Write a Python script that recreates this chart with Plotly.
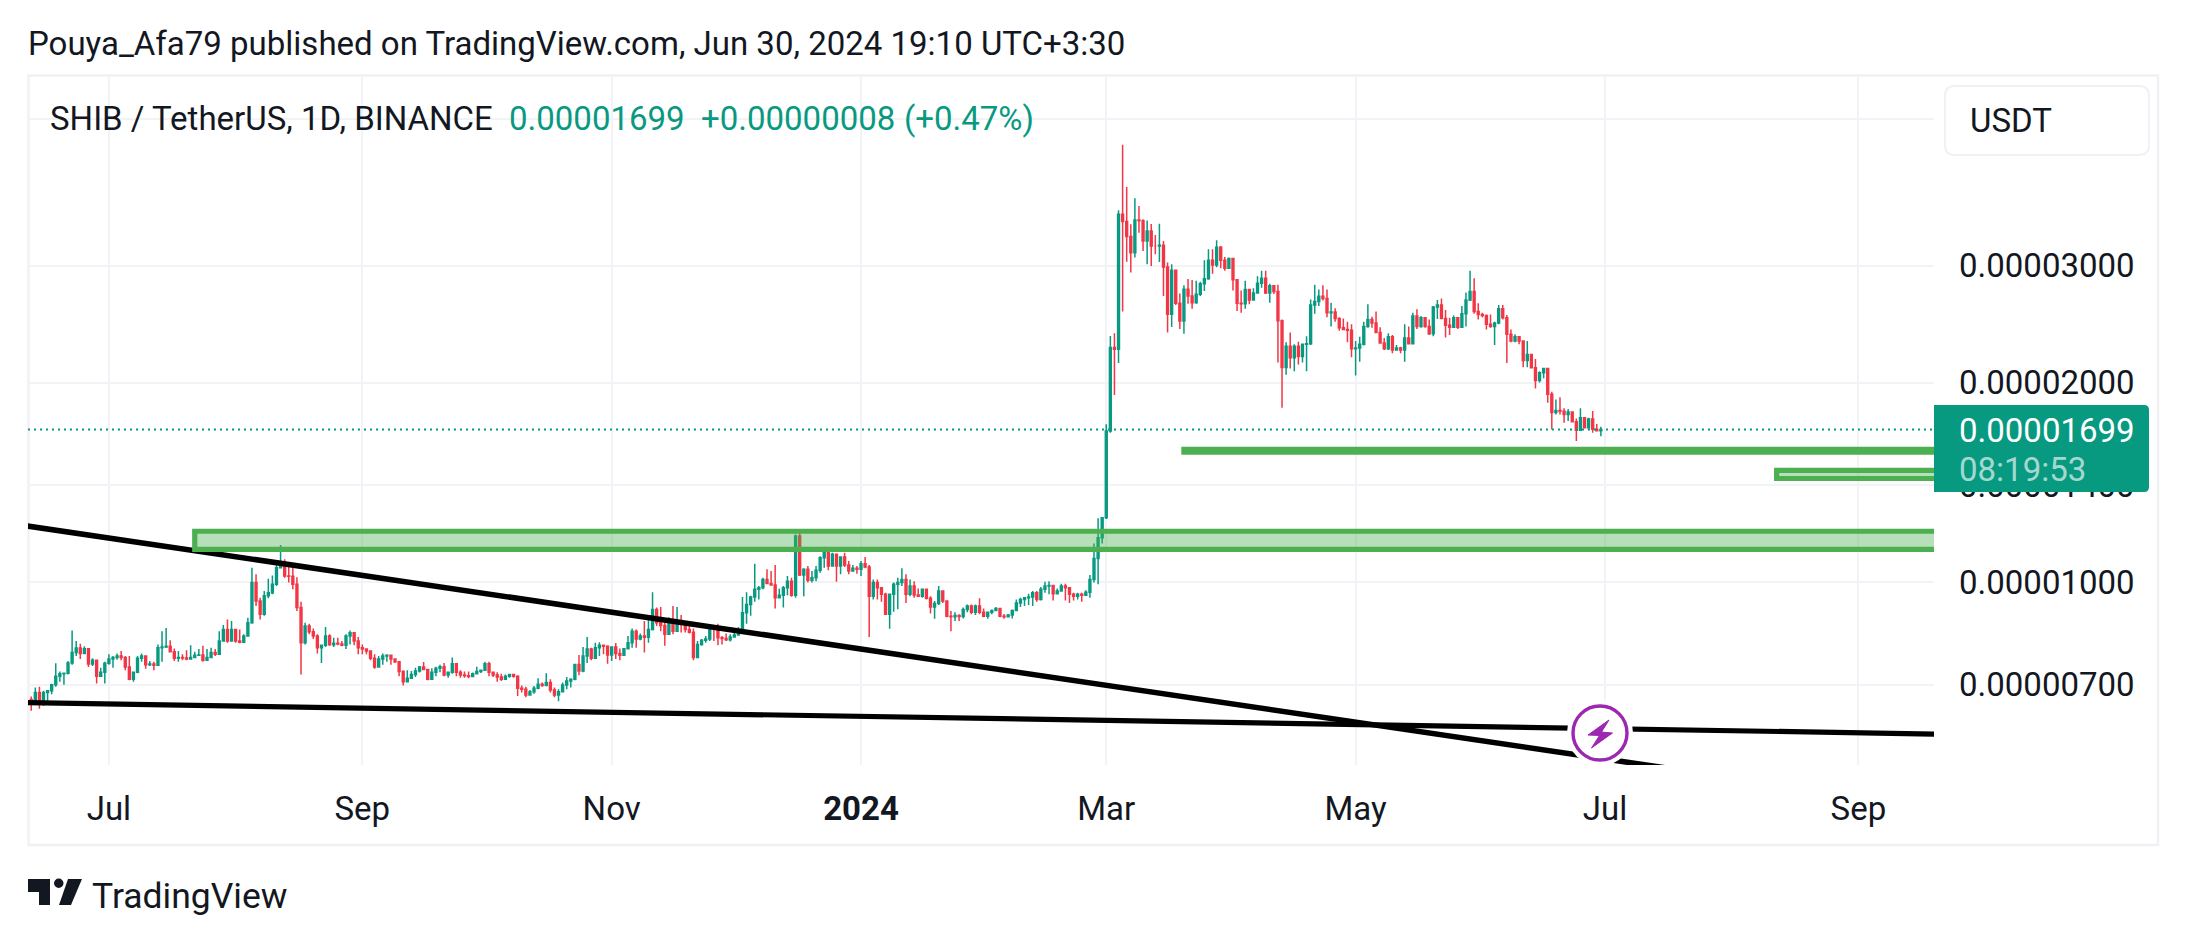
import pandas as pd
import plotly.graph_objects as go

W, H = 2187, 941
UNIT = 1e-8  # quoted prices below are in units of 0.00000001 USDT

first_open = 665
closes = [
654,681,654,681,685,700,721,727,728,755,
783,795,780,793,752,762,721,731,754,765,
769,773,769,744,713,731,767,773,750,752,
749,796,798,800,785,767,769,768,765,769,
775,776,762,769,783,778,815,848,815,848,
815,811,829,868,998,936,894,953,963,992,
1051,1063,1021,1020,992,915,810,858,841,829,
796,803,829,804,808,806,803,829,838,815,
796,792,787,767,744,765,773,775,765,758,
733,707,716,725,734,744,738,713,731,741,
745,724,731,753,731,724,722,720,727,733,
736,753,731,724,719,713,721,725,721,691,
689,675,683,691,701,698,705,687,675,683,
699,709,713,751,734,773,792,767,796,803,
800,776,798,780,775,793,810,843,820,829,
825,848,909,868,860,834,878,843,875,868,
848,840,769,805,817,820,855,850,824,822,
818,826,832,838,899,925,949,975,980,1009,
995,990,947,955,980,1003,955,1173,1025,1045,
1006,1015,1042,1088,1107,1057,1101,1057,1091,1061,
1039,1049,1045,1066,1054,952,998,980,958,894,
958,992,998,1009,958,986,956,952,975,945,
917,928,969,936,888,886,890,887,909,920,
900,920,900,888,900,906,912,888,886,892,
906,930,941,947,949,963,941,975,986,988,
960,969,986,980,958,952,958,955,965,1009,
1085,1166,1250,1690,2259,2245,3590,3500,3322,3141,
3520,3510,3272,3388,3216,3216,3224,2990,2537,2955,
2635,2478,2767,2703,2640,2719,2820,2870,3060,3010,
3200,3060,2975,3078,2860,2635,2630,2765,2665,2730,
2825,2875,2730,2800,2745,2480,2107,2270,2180,2270,
2190,2285,2290,2620,2650,2700,2680,2550,2555,2500,
2420,2405,2400,2250,2255,2285,2430,2490,2460,2380,
2295,2250,2345,2240,2255,2240,2335,2290,2520,2430,
2505,2430,2370,2600,2620,2500,2440,2425,2505,2425,
2540,2665,2745,2560,2535,2525,2450,2430,2460,2585,
2505,2365,2310,2345,2310,2160,2205,2105,2015,2070,
2100,1920,1802,1815,1810,1790,1805,1745,1695,1770,
1710,1762,1700,1691,1699]

highs = [
672,693,695,685,687,702,754,733,730,760,
845,815,807,800,795,767,760,742,758,778,
773,780,787,773,773,733,773,780,773,760,
758,805,843,852,817,794,787,778,789,803,
785,792,801,792,796,792,843,861,878,873,
848,848,834,883,1051,1027,947,969,1011,1023,
1066,1137,1082,1069,1066,1017,934,868,865,851,
834,805,855,834,824,824,815,834,845,836,
826,805,794,785,778,773,780,778,773,767,
758,736,736,734,742,747,757,738,741,745,
750,755,733,769,753,736,733,733,730,745,
738,758,758,733,731,727,725,727,727,723,
698,695,687,697,716,705,728,713,693,689,
705,719,716,753,776,798,826,796,810,811,
805,803,800,809,794,794,829,851,848,836,
873,881,965,915,917,881,885,920,917,892,
873,873,851,815,820,829,858,861,865,829,
836,834,838,855,949,965,953,1066,986,1015,
1045,1039,1061,977,986,1021,1015,1180,1194,1049,
1057,1039,1057,1094,1130,1111,1107,1104,1094,1107,
1076,1061,1057,1076,1091,1061,1009,1009,983,963,
960,998,1015,1049,1027,1009,1003,978,978,969,
952,936,986,971,936,904,900,894,915,925,
925,925,945,912,902,909,917,912,895,895,
909,941,947,949,960,969,969,983,1001,1003,
990,978,994,994,978,963,963,963,972,1025,
1143,1248,1253,1730,2352,2374,3640,4570,3948,3469,
3796,3696,3528,3512,3470,3340,3474,3272,3035,3017,
2955,2727,2804,2867,2858,2850,2840,3060,3180,3180,
3280,3215,3095,3088,3078,2860,2755,2850,2765,2775,
2895,2950,2950,2820,2805,2810,2490,2300,2380,2285,
2305,2290,2350,2670,2810,2765,2805,2765,2640,2590,
2510,2500,2470,2450,2310,2345,2470,2625,2515,2560,
2425,2335,2375,2360,2280,2265,2450,2430,2550,2580,
2520,2505,2490,2610,2665,2680,2575,2505,2525,2500,
2610,2735,2950,2875,2635,2550,2535,2535,2470,2620,
2620,2530,2405,2365,2350,2295,2310,2200,2170,2080,
2105,2105,1938,1885,1900,1830,1825,1800,1765,1830,
1775,1770,1812,1732,1715]

lows = [
639,654,644,650,658,677,695,707,700,725,
750,773,765,778,744,747,703,721,703,750,
742,763,762,736,711,707,728,758,740,747,
736,747,758,795,783,760,758,762,762,767,
767,773,758,765,773,773,778,815,810,815,
810,808,810,829,865,920,878,889,945,958,
986,1053,1015,998,975,904,725,805,834,820,
780,755,798,801,798,803,800,792,805,803,
778,778,778,762,740,744,750,758,750,755,
721,698,705,716,719,730,736,711,719,721,
731,721,717,727,721,717,717,716,721,727,
729,736,721,719,707,709,713,717,717,673,
681,670,675,678,689,695,696,681,670,661,
681,689,693,711,723,731,755,762,769,773,
778,753,760,765,762,776,793,796,796,817,
783,810,845,858,843,801,832,834,841,839,
839,836,762,771,801,810,815,815,803,805,
815,813,826,834,838,865,889,934,941,975,
992,988,912,950,915,955,950,947,1021,952,
998,998,1003,1033,1051,1042,1057,1001,1027,1054,
1027,1036,1029,1021,1049,826,941,941,934,892,
850,902,910,986,930,952,947,949,947,941,
896,880,923,930,885,843,873,873,881,900,
894,892,894,885,880,894,906,885,880,885,
881,904,917,920,923,920,934,938,963,958,
938,958,967,938,930,938,941,934,955,947,
998,992,1143,1245,1680,1915,2140,2560,3045,2931,
3088,3368,3160,3017,3000,3125,3042,2703,2380,2427,
2620,2410,2371,2630,2586,2630,2703,2750,2860,2920,
2985,2975,2950,2972,2755,2565,2550,2585,2625,2665,
2730,2780,2720,2640,2720,2145,1833,2055,2100,2080,
2130,2145,2080,2280,2540,2610,2660,2510,2430,2470,
2395,2400,2300,2185,2050,2150,2275,2420,2420,2375,
2290,2240,2240,2215,2240,2215,2150,2285,2285,2410,
2420,2420,2360,2350,2495,2500,2340,2360,2425,2410,
2425,2430,2655,2540,2490,2510,2405,2420,2280,2450,
2490,2140,2300,2300,2285,2110,2110,2100,1960,2000,
2030,1865,1699,1790,1790,1740,1750,1745,1632,1695,
1710,1695,1680,1690,1660]

dates = pd.date_range("2023-06-12", periods=len(closes), freq="D")
opens = [first_open] + closes[:-1]

price_ticks = [5000, 3000, 2000, 1400, 1000, 700]
price_labels = ["0.00005000", "0.00003000", "0.00002000", "0.00001400", "0.00001000", "0.00000700"]
time_ticks = ["2023-07-01", "2023-09-01", "2023-11-01", "2024-01-01", "2024-03-01", "2024-05-01", "2024-07-01", "2024-09-01"]
time_labels = ["Jul", "Sep", "Nov", "<b>2024</b>", "Mar", "May", "Jul", "Sep"]

trend_a_dates = ["2023-06-01", "2024-07-27"]
trend_a_prices = [1241, 512]
trend_b_dates = ["2023-06-01", "2024-10-01"]
trend_b_prices = [659, 588]

zone_starts = ["2023-07-22", "2024-03-20", "2024-08-12"]
zone_tops = [1193, 1586, 1474]
zone_bottoms = [1120, 1570, 1433]
zone_end = "2025-01-01"
last_price = 1699

UP, DOWN = "#089981", "#F23645"
INK = "#131722"
GRID = "#f2f3f6"
GREEN = "#4CAF50"
FONT = "Roboto"


def px(x):
    return x / W


def py(y):
    return 1 - y / H


def path(points):
    return "M " + " L ".join(f"{px(x):.5f} {py(y):.5f}" for x, y in points) + " Z"


def rounded(l, t, r, b, rad, left_round=True):
    lr = rad if left_round else 0
    s = f"M {px(l+lr)} {py(t)} L {px(r-rad)} {py(t)} Q {px(r)} {py(t)} {px(r)} {py(t+rad)} "
    s += f"L {px(r)} {py(b-rad)} Q {px(r)} {py(b)} {px(r-rad)} {py(b)} L {px(l+lr)} {py(b)} "
    if left_round:
        s += f"Q {px(l)} {py(b)} {px(l)} {py(b-rad)} L {px(l)} {py(t+rad)} Q {px(l)} {py(t)} {px(l+rad)} {py(t)} "
    else:
        s += f"L {px(l)} {py(t)} "
    return s + "Z"


fig = go.Figure()
fig.add_trace(go.Candlestick(
    x=dates,
    open=[v * UNIT for v in opens], high=[v * UNIT for v in highs],
    low=[v * UNIT for v in lows], close=[v * UNIT for v in closes],
    increasing=dict(line=dict(color=UP, width=1.5), fillcolor=UP),
    decreasing=dict(line=dict(color=DOWN, width=1.5), fillcolor=DOWN),
    whiskerwidth=0, hoverinfo="skip", showlegend=False,
))
for xs, ys, lw in [(trend_a_dates, trend_a_prices, 5.6), (trend_b_dates, trend_b_prices, 5.2)]:
    fig.add_trace(go.Scatter(x=xs, y=[v * UNIT for v in ys], mode="lines",
                             line=dict(color="#000000", width=lw),
                             hoverinfo="skip", showlegend=False))

shapes = []
# last price line
shapes.append(dict(type="line", xref="paper", yref="y",
                   x0=px(28), x1=px(1934), y0=last_price * UNIT, y1=last_price * UNIT,
                   line=dict(color=UP, width=2, dash="2px,4px"), layer="above"))
# zones
for s, t, b in zip(zone_starts, zone_tops, zone_bottoms):
    shapes.append(dict(type="rect", xref="x", yref="y", x0=s, x1=zone_end,
                       y0=b * UNIT, y1=t * UNIT,
                       line=dict(color=GREEN, width=5.2),
                       fillcolor="rgba(76,175,80,0.4)", layer="above"))
# outer frame
shapes.append(dict(type="rect", xref="paper", yref="paper",
                   x0=px(28.5), x1=px(2158), y0=py(845), y1=py(75.5),
                   line=dict(color="#f0f1f5", width=2.4), layer="below"))
# USDT button
shapes.append(dict(type="path", xref="paper", yref="paper",
                   path=rounded(1945, 86, 2149, 155, 10),
                   line=dict(color="#f0f1f5", width=2), fillcolor="#ffffff", layer="above"))
# price tag
shapes.append(dict(type="path", xref="paper", yref="paper",
                   path=rounded(1934, 405, 2149, 492, 5, left_round=False),
                   fillcolor=UP, line=dict(width=0), layer="above"))
# bolt badge
shapes.append(dict(type="circle", xref="paper", yref="paper",
                   x0=px(1600 - 33), x1=px(1600 + 33), y0=py(733 + 33), y1=py(733 - 33),
                   fillcolor="#ffffff", line=dict(width=0), layer="above"))
shapes.append(dict(type="circle", xref="paper", yref="paper",
                   x0=px(1600 - 27), x1=px(1600 + 27), y0=py(733 + 27), y1=py(733 - 27),
                   fillcolor="#ffffff", line=dict(color="#9C27B0", width=3.4), layer="above"))
shapes.append(dict(type="path", xref="paper", yref="paper",
                   path=path([(1609, 720), (1588, 735), (1599.5, 735.5), (1591.5, 748), (1612.5, 733), (1601.5, 732)]),
                   fillcolor="#9C27B0", line=dict(color="#9C27B0", width=1), layer="above"))
# TradingView mark
shapes.append(dict(type="path", xref="paper", yref="paper",
                   path=path([(28, 879), (50, 879), (50, 905), (39, 905), (39, 892), (28, 892)]),
                   fillcolor=INK, line=dict(width=0), layer="above"))
shapes.append(dict(type="circle", xref="paper", yref="paper",
                   x0=px(54), x1=px(63.5), y0=py(888), y1=py(878.5),
                   fillcolor=INK, line=dict(width=0), layer="above"))
shapes.append(dict(type="path", xref="paper", yref="paper",
                   path=path([(68, 879), (82, 879), (71, 905), (59, 905)]),
                   fillcolor=INK, line=dict(width=0), layer="above"))


def note(x, y, text, color=INK, size=33):
    return dict(xref="paper", yref="paper", x=px(x), y=py(y), text=text, showarrow=False,
                xanchor="left", yanchor="middle", align="left",
                font=dict(family=FONT, size=size, color=color))


annotations = [
    note(26, 43, "Pouya_Afa79 published on TradingView.com, Jun 30, 2024 19:10 UTC+3:30"),
    note(48, 118, "SHIB / TetherUS, 1D, BINANCE"),
    note(507, 118, "0.00001699", UP),
    note(699, 118, "+0.00000008", UP),
    note(902, 118, "(+0.47%)", UP),
    note(1968, 121, "USDT"),
    note(1957, 430, "0.00001699", "#ffffff"),
    note(1957, 469, "08:19:53", "rgba(255,255,255,0.65)"),
    note(90, 896, "TradingView", INK, 35.5),
]

fig.update_layout(
    width=W, height=H, autosize=False,
    margin=dict(l=0, r=0, t=0, b=0, pad=0),
    paper_bgcolor="#ffffff", plot_bgcolor="#ffffff",
    showlegend=False, boxgap=0.35,
    shapes=shapes, annotations=annotations,
    font=dict(family=FONT, size=33, color=INK),
    xaxis=dict(
        domain=[px(28), px(1934)], type="date",
        range=["2023-06-11 05:00", "2024-09-19 12:00"],
        rangeslider=dict(visible=False),
        tickmode="array", tickvals=time_ticks, ticktext=time_labels,
        showgrid=True, gridcolor=GRID, gridwidth=1.6, zeroline=False, showline=False,
        ticks="", ticklabelstandoff=21, tickfont=dict(family=FONT, size=33, color=INK),
    ),
    yaxis=dict(
        domain=[py(765), py(76)], type="log", side="right",
        range=[-5.2762, -4.2362],
        tickmode="array", tickvals=[v * UNIT for v in price_ticks], ticktext=price_labels,
        showgrid=True, gridcolor=GRID, gridwidth=1.6, zeroline=False, showline=False,
        ticks="", ticklabelstandoff=24, tickfont=dict(family=FONT, size=33, color=INK),
    ),
)

fig.write_html("out.html", config=dict(displayModeBar=False),
               post_script="document.body.style.margin='0';document.body.style.overflow='hidden';")
